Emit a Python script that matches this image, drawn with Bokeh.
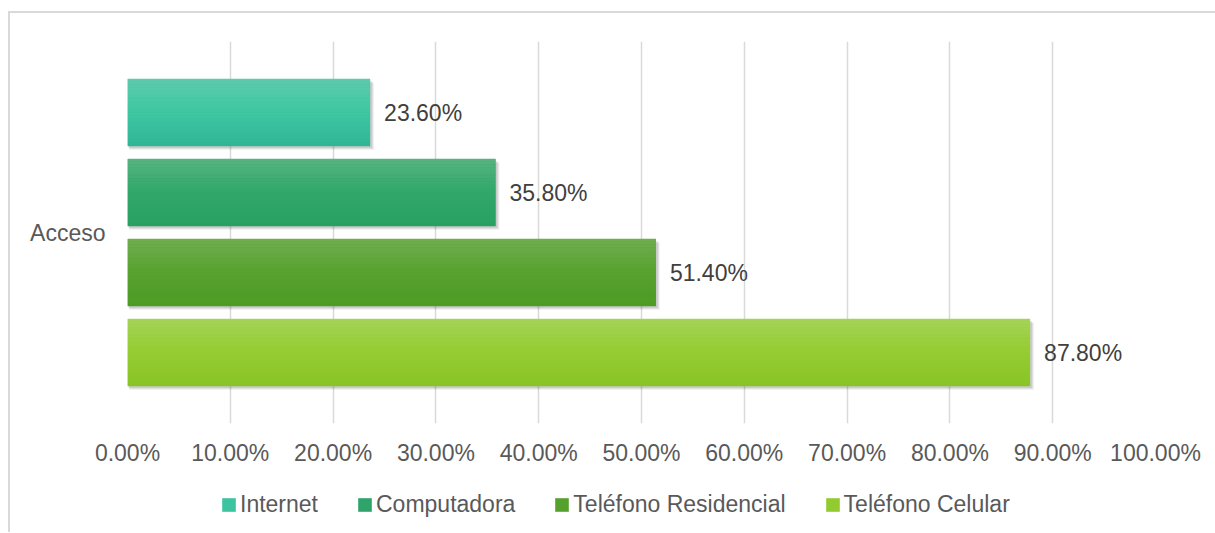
from bokeh.plotting import figure
from bokeh.models import (ColumnDataSource, Range1d, FixedTicker, NumeralTickFormatter,
                          Legend, LegendItem)
from bokeh.layouts import column
from bokeh.core.properties import value
from bokeh.embed import file_html
from bokeh.resources import INLINE

# ---- data ----
category = "Acceso"
series = ["Internet", "Computadora", "Teléfono Residencial", "Teléfono Celular"]
values = [0.236, 0.358, 0.514, 0.878]
color_top = ["#5fcaad", "#58b481", "#70ae50", "#a5d35a"]
color_mid = ["#40c8a3", "#33a96b", "#5aa332", "#96cd33"]
color_bot = ["#2fb594", "#27a062", "#4c9a25", "#88c426"]
legend_colors = ["#3cc39f", "#2ea46a", "#56a12d", "#92cb30"]
x_ticks = [0.0, 0.1, 0.2, 0.3, 0.4, 0.5, 0.6, 0.7, 0.8, 0.9, 1.0]

FONT = "Liberation Sans"

p = figure(width=1205, height=460, output_backend="svg", toolbar_location=None,
           x_range=Range1d(0, 1.0), y_range=Range1d(-2.3875, 2.3875),
           min_border_left=117, min_border_right=60, min_border_top=28,
           min_border_bottom=50)
p.outline_line_color = None
p.background_fill_color = "white"
p.border_fill_color = "white"

n = len(series)
bar_h = 0.84
px_x = 1.0 / 1028.0
px_y = 1.0 / 80.0


def hexmix(c1, c2, t):
    a = [int(c1[i:i + 2], 16) for i in (1, 3, 5)]
    b = [int(c2[i:i + 2], 16) for i in (1, 3, 5)]
    return "#%02x%02x%02x" % tuple(round(a[k] + (b[k] - a[k]) * t) for k in range(3))


label_y = []
for i, (name, v) in enumerate(zip(series, values)):
    yc = (n - 1) / 2 - i
    label_y.append(yc)
    # shadow
    for k, a in ((4, 0.05), (3, 0.07), (2, 0.09)):
        p.hbar(y=[yc - k * px_y], left=[k * 0.5 * px_x], right=[v + k * px_x],
               height=bar_h, fill_color="black", fill_alpha=a, line_color=None)
    p.hbar(y=[yc], left=[0], right=[v], height=bar_h,
           fill_color=legend_colors[i], line_color=None)
    # gradient bands
    N = 24
    ys, cols = [], []
    for j in range(N):
        t = (j + 0.5) / N
        if t < 0.45:
            c = hexmix(color_top[i], color_mid[i], t / 0.45)
        else:
            c = hexmix(color_mid[i], color_bot[i], (t - 0.45) / 0.55)
        ys.append(yc + bar_h / 2 - (j + 0.5) * bar_h / N)
        cols.append(c)
    src = ColumnDataSource(dict(y=ys, right=[v] * N, color=cols))
    p.hbar(y="y", left=0, right="right", height=bar_h / N * 1.08, source=src,
           fill_color="color", line_color=None)

lbl = ColumnDataSource(dict(x=values, y=label_y,
                            text=["%.2f%%" % (v * 100) for v in values]))
p.text(x="x", y="y", text="text", source=lbl, x_offset=14,
       text_baseline="middle", text_align="left", text_font=value(FONT),
       text_font_size="23px", text_color="#404040")

# axes
xa = p.xaxis[0]
xa.ticker = FixedTicker(ticks=x_ticks)
xa.formatter = NumeralTickFormatter(format="0.00%")
xa.axis_line_color = None
xa.major_tick_line_color = None
xa.minor_tick_line_color = None
xa.major_tick_out = 0
xa.major_tick_in = 0
xa.major_label_standoff = 16
xa.major_label_text_font = FONT
xa.major_label_text_font_size = "23px"
xa.major_label_text_color = "#595959"

ya = p.yaxis[0]
ya.ticker = FixedTicker(ticks=[0])
ya.major_label_overrides = {0: category}
ya.axis_line_color = None
ya.major_tick_line_color = None
ya.minor_tick_line_color = None
ya.major_tick_out = 0
ya.major_tick_in = 0
ya.major_label_standoff = 22
ya.major_label_text_font = FONT
ya.major_label_text_font_size = "23px"
ya.major_label_text_color = "#595959"

p.xgrid.ticker = FixedTicker(ticks=x_ticks)
p.xgrid.grid_line_color = "#d9d9d9"
p.xgrid.grid_line_width = 1.5
p.ygrid.grid_line_color = None

# ---- legend strip ----
lg = figure(width=1205, height=59, output_backend="svg", toolbar_location=None,
            x_range=Range1d(0, 1), y_range=Range1d(0, 1),
            min_border=0)
lg.outline_line_color = None
lg.axis.visible = False
lg.grid.visible = False
lg.background_fill_color = "white"
lg.border_fill_color = "white"

items = []
for i, name in enumerate(series):
    # zero-size legend proxy, far outside the strip's visible range
    r = lg.hbar(y=[10], left=[0], right=[0], height=0.1,
                fill_color=legend_colors[i], line_color=None)
    items.append(LegendItem(label=name, renderers=[r]))

legend = Legend(items=items, orientation="horizontal", location=(93, 14),
                padding=0, margin=0, spacing=38, label_standoff=3,
                glyph_width=17, glyph_height=17,
                label_text_font=FONT, label_text_font_size="23px",
                label_text_color="#595959",
                border_line_color=None, background_fill_alpha=0)
lg.add_layout(legend, "center")

layout = column(p, lg, spacing=0,
                styles={"margin-left": "8px", "margin-top": "11px",
                        "border-left": "2px solid #d9d9d9",
                        "border-top": "2px solid #d9d9d9"})

open("out.html", "w").write(file_html(layout, INLINE))
